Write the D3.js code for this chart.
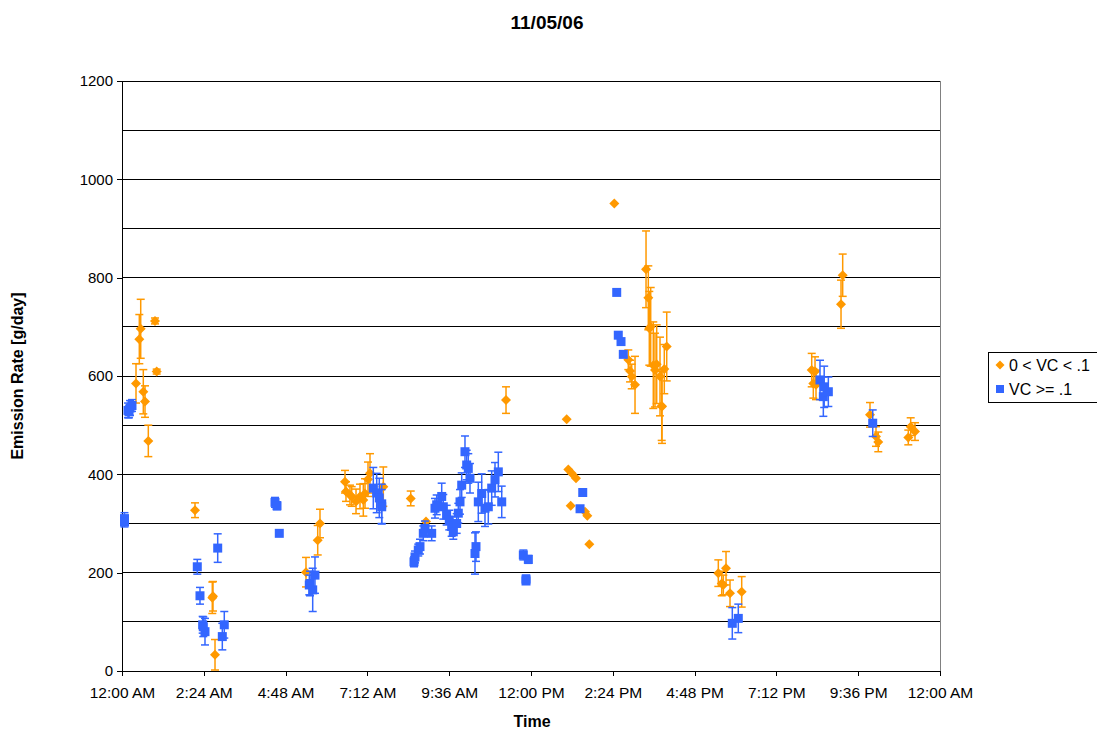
<!DOCTYPE html>
<html>
<head>
<meta charset="utf-8">
<script src="https://cdn.jsdelivr.net/npm/d3@7/dist/d3.min.js"></script>
<style>
  html, body { margin: 0; padding: 0; background: #ffffff; }
  svg text { font-family: "Liberation Sans", Arial, sans-serif; fill: #000; }
</style>
</head>
<body>
<svg id="chart" width="1097" height="730"></svg>
<script>
// ---- Data (time in hours since midnight, emission rate g/day, error half-width) ----
const xTickLabels = ["12:00 AM","2:24 AM","4:48 AM","7:12 AM","9:36 AM","12:00 PM","2:24 PM","4:48 PM","7:12 PM","9:36 PM","12:00 AM"];
const yTicks = [0,200,400,600,800,1000,1200];
const seriesNames = ["0 < VC < .1", "VC >= .1"];

const orangeHours = [0.968,0.549,0.508,1.018,0.411,0.625,0.675,0.772,2.142,2.649,2.670,2.729,
  5.809,5.742,5.398,6.543,6.572,6.689,6.739,6.866,6.983,7.080,7.130,7.276,7.218,7.667,8.471,8.919,
  11.267,13.047,13.094,13.194,13.320,13.165,13.585,13.652,13.711,14.444,14.855,14.955,15.052,14.906,
  15.375,15.442,15.512,15.471,15.588,15.688,15.638,15.785,15.835,15.911,15.982,15.844,
  17.496,17.722,17.596,17.643,17.839,18.182,21.145,21.096,20.236,20.283,20.362,20.333,
  21.946,22.122,22.189,23.140,23.266,23.070];
const orangeValues = [712,696,675,609,585,568,548,468,327,149,152,33,
  300,266,201,385,365,358,355,345,355,348,361,402,390,375,351,304,
  551,512,410,402,392,336,324,316,258,951,633,599,582,610,
  817,759,700,697,622,624,612,599,539,614,660,538,
  199,209,178,175,158,161,805,746,612,585,582,609,
  521,477,466,497,487,475];
const orangeErrors = [6,60,50,5,40,45,32,32,15,32,30,31,
  29,30,30,23,20,20,20,25,25,33,30,40,35,40,15,0,
  27,0,0,0,0,0,0,0,0,0,20,25,58,22,
  78,65,80,75,88,80,75,80,70,50,70,75,
  27,34,25,20,27,31,43,49,34,30,30,30,
  25,20,20,18,18,15];

const blueHours = [0.073,0.073,0.176,0.235,0.293,0.205,2.808,2.209,2.288,2.367,2.435,2.385,3.001,2.943,
  4.489,4.548,4.615,5.662,5.495,5.595,5.516,7.373,7.473,7.549,7.620,7.620,
  8.567,8.597,8.693,8.743,8.840,8.890,9.086,9.183,9.233,9.380,9.427,9.525,9.602,9.672,9.720,9.819,
  9.867,9.917,9.967,10.063,10.113,10.160,10.210,10.357,10.386,10.454,10.554,10.650,10.747,10.847,
  10.944,11.041,11.141,11.775,11.922,11.854,11.854,13.518,13.439,14.515,14.561,14.641,14.708,
  17.906,18.082,20.479,20.602,20.577,20.724,22.026];
const blueValues = [310,303,530,535,540,527,250,212,153,94,80,90,94,70,
  343,336,280,195,175,165,178,372,362,352,340,334,
  222,232,246,253,280,290,280,331,338,355,334,317,307,294,283,300,
  321,344,378,446,419,412,392,239,253,344,361,331,334,372,
  389,405,344,236,227,187,183,363,330,770,683,670,644,
  97,107,592,578,558,568,504];
const blueErrors = [12,10,15,15,12,12,29,15,17,17,27,20,27,27,
  10,8,0,37,20,44,25,42,40,40,40,35,
  10,12,12,15,15,15,15,20,20,27,25,20,20,20,15,20,
  20,25,25,32,30,30,30,42,30,40,40,37,35,35,
  35,40,32,10,8,8,5,0,0,0,0,0,0,
  32,29,40,42,40,30,27];

const orangeColor = "#FF9900";
const blueColor = "#3366FF";

// ---- Layout ----
const svg = d3.select("#chart");
const plot = { left: 122, right: 940, top: 81, bottom: 671 };

const x = d3.scaleLinear().domain([0, 24]).range([plot.left, plot.right]);
const y = d3.scaleLinear().domain([0, 1200]).range([plot.bottom, plot.top]);

// gridlines
const gridVals = d3.range(100, 1201, 100);
svg.append("g").selectAll("line").data(gridVals).join("line")
  .attr("x1", plot.left).attr("x2", plot.right)
  .attr("y1", d => y(d)).attr("y2", d => y(d))
  .attr("stroke", "#000").attr("stroke-width", 1).attr("shape-rendering", "crispEdges");

// right border of plot area
svg.append("line")
  .attr("x1", plot.right).attr("x2", plot.right)
  .attr("y1", plot.top).attr("y2", plot.bottom)
  .attr("stroke", "#808080").attr("stroke-width", 1).attr("shape-rendering", "crispEdges");

// Y axis
const yAxis = d3.axisLeft(y).tickValues(yTicks).tickSize(5).tickPadding(4).tickFormat(d3.format("d"));
const gy = svg.append("g").attr("transform", `translate(${plot.left},0)`).call(yAxis);
gy.select(".domain").attr("stroke", "#000").attr("shape-rendering", "crispEdges");
gy.selectAll(".tick line").attr("stroke", "#000").attr("shape-rendering", "crispEdges");
gy.selectAll("text").attr("font-size", 15).style("font-family", "Liberation Sans, Arial, sans-serif");

// X axis
const xTickVals = d3.range(0, 11).map(i => i * 2.4);
const xAxis = d3.axisBottom(x).tickValues(xTickVals).tickSize(5).tickPadding(11)
  .tickFormat((d, i) => xTickLabels[i]);
const gx = svg.append("g").attr("transform", `translate(0,${plot.bottom})`).call(xAxis);
gx.select(".domain").attr("stroke", "#000").attr("shape-rendering", "crispEdges");
gx.selectAll(".tick line").attr("stroke", "#000").attr("shape-rendering", "crispEdges");
gx.selectAll("text").attr("font-size", 15.5).style("font-family", "Liberation Sans, Arial, sans-serif");

// ---- series drawing ----
function drawSeries(hours, values, errors, color, shape) {
  const data = hours.map((h, i) => ({ h, v: values[i], e: errors[i] }));
  const g = svg.append("g");
  const eb = g.append("g").selectAll("g").data(data.filter(d => d.e > 0)).join("g")
    .attr("stroke", color).attr("stroke-width", 1.5).attr("fill", "none");
  eb.append("line")
    .attr("x1", d => x(d.h)).attr("x2", d => x(d.h))
    .attr("y1", d => y(Math.max(0, d.v - d.e))).attr("y2", d => y(d.v + d.e));
  eb.append("line")
    .attr("x1", d => x(d.h) - 4).attr("x2", d => x(d.h) + 4)
    .attr("y1", d => y(d.v + d.e)).attr("y2", d => y(d.v + d.e));
  eb.append("line")
    .attr("x1", d => x(d.h) - 4).attr("x2", d => x(d.h) + 4)
    .attr("y1", d => y(Math.max(0, d.v - d.e))).attr("y2", d => y(Math.max(0, d.v - d.e)));
  const m = g.append("g").selectAll("path").data(data).join("path")
    .attr("transform", d => `translate(${x(d.h)},${y(d.v)})`)
    .attr("fill", color);
  if (shape === "diamond") m.attr("d", "M0,-5L5,0L0,5L-5,0Z");
  else m.attr("d", "M-4.5,-4.5H4.5V4.5H-4.5Z");
}

drawSeries(orangeHours, orangeValues, orangeErrors, orangeColor, "diamond");
drawSeries(blueHours, blueValues, blueErrors, blueColor, "square");

// ---- titles ----
svg.append("text").attr("x", 547).attr("y", 29).attr("text-anchor", "middle")
  .attr("font-size", 19).attr("font-weight", "bold").text("11/05/06");
svg.append("text").attr("x", 532).attr("y", 727).attr("text-anchor", "middle")
  .attr("font-size", 16).attr("font-weight", "bold").text("Time");
svg.append("text").attr("transform", "translate(23,376) rotate(-90)").attr("text-anchor", "middle")
  .attr("font-size", 16).attr("font-weight", "bold").text("Emission Rate [g/day]");

// ---- legend ----
const lg = svg.append("g").attr("transform", "translate(988,352)");
lg.append("rect").attr("x", 0).attr("y", 0).attr("width", 120).attr("height", 50)
  .attr("fill", "#fff").attr("stroke", "#000").attr("stroke-width", 1).attr("shape-rendering", "crispEdges");
lg.append("path").attr("transform", "translate(12,13)").attr("d", "M0,-4.5L4.5,0L0,4.5L-4.5,0Z").attr("fill", orangeColor);
lg.append("path").attr("transform", "translate(12,37)").attr("d", "M-4,-4H4V4H-4Z").attr("fill", blueColor);
lg.append("text").attr("x", 21).attr("y", 19).attr("font-size", 16).text(seriesNames[0]);
lg.append("text").attr("x", 21).attr("y", 43).attr("font-size", 16).text(seriesNames[1]);
</script>
</body>
</html>
